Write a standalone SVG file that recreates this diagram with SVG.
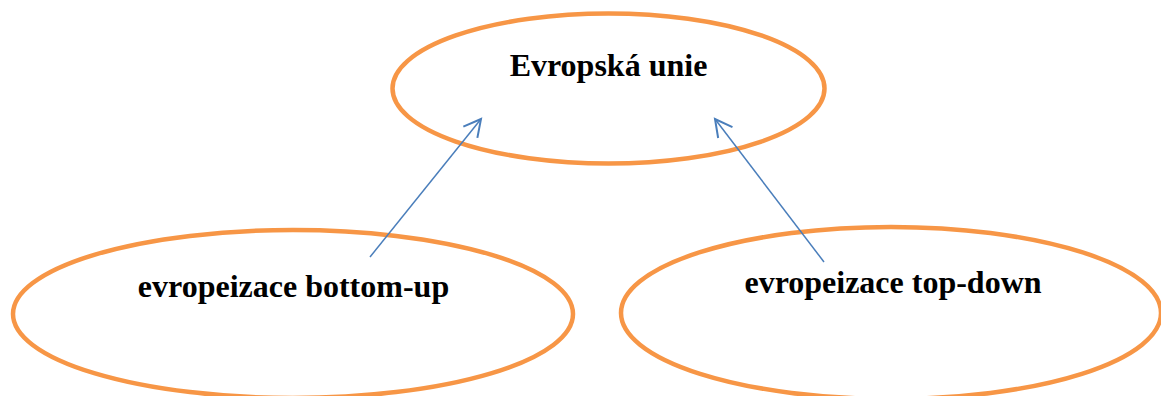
<svg xmlns="http://www.w3.org/2000/svg" width="1161" height="396" viewBox="0 0 1161 396">
<defs>
<style>
.node{fill:#FFFFFF;stroke:#F79646;stroke-width:4.5}
.lbl{font-family:"Liberation Serif","Times New Roman",serif;font-weight:bold;font-size:32px;fill:#000000;text-anchor:middle}
.conn{stroke:#4A7EBB;stroke-width:1.5;fill:none}
</style>
<marker id="open" markerUnits="userSpaceOnUse" markerWidth="24" markerHeight="24" viewBox="-20 -12 24 24" refX="0" refY="0" orient="auto">
<path d="M-17,-9 L0,0 L-17,9" fill="none" stroke="#4A7EBB" stroke-width="2"/>
</marker>
</defs>
<rect width="1161" height="396" fill="#FFFFFF"/>
<g id="node-eu">
<ellipse class="node" cx="608.5" cy="88.5" rx="216" ry="75"/>
<text class="lbl" x="608.5" y="76">Evropská unie</text>
</g>
<g id="node-bottomup">
<ellipse class="node" cx="293" cy="314" rx="280" ry="84"/>
<text class="lbl" x="293.5" y="297">evropeizace bottom-up</text>
</g>
<g id="node-topdown">
<ellipse class="node" cx="891" cy="313" rx="270" ry="86"/>
<text class="lbl" x="893" y="293">evropeizace top-down</text>
</g>
<g id="connectors">
<line class="conn" x1="370" y1="257" x2="481" y2="119" marker-end="url(#open)"/>
<line class="conn" x1="824" y1="262" x2="715" y2="119" marker-end="url(#open)"/>
</g>
</svg>
